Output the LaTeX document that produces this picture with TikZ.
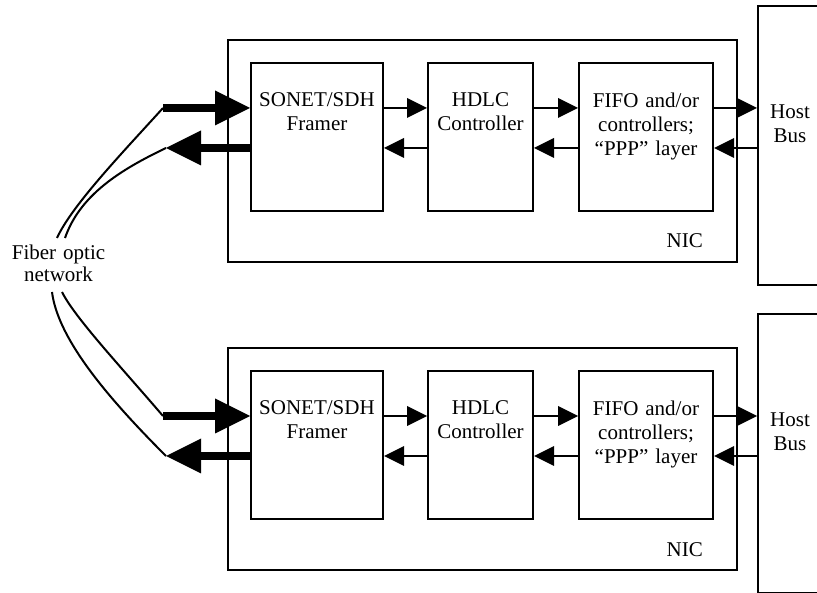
\documentclass[tikz,border=0pt]{standalone}
\usepackage{fontspec}
\setmainfont{Liberation Serif}
\usetikzlibrary{arrows.meta}
\begin{document}
\begin{tikzpicture}[x=1pt,y=-1pt,
  blk/.style={draw, line width=2pt, rectangle, inner sep=0pt},
  txt/.style={font=\fontsize{21}{24}\selectfont, align=center, text width=160pt, inner sep=0pt, anchor=base},
  plain/.style={font=\fontsize{21}{24}\selectfont, inner sep=0pt},
  thinarr/.style={line width=2pt, -{Triangle[length=20pt,width=20pt,line width=0pt]}},
  fatarr/.style={line width=8pt, -{Triangle[length=35pt,width=35pt,line width=0pt]}},
  fiber/.style={line width=2pt}]
\useasboundingbox (0,0) rectangle (817,593);
\clip (0,0) rectangle (817,593);

% two identical network interface cards, one below the other
\foreach \r/\dy in {1/0,2/308}{
  \begin{scope}[shift={(0,\dy)}]
    \node[blk, minimum width=509pt, minimum height=222pt] (nic\r) at (482.5,151) {};
    \node[blk, minimum width=132pt, minimum height=148pt] (fr\r) at (317,137) {};
    \node[blk, minimum width=105pt, minimum height=148pt] (hd\r) at (480.5,137) {};
    \node[blk, minimum width=134pt, minimum height=148pt] (ff\r) at (646,137) {};
    \node[blk, minimum width=100pt, minimum height=279pt] (hb\r) at (808,145.5) {};

    \node[txt] at (317,107) {SONET/SDH\\Framer};
    \node[txt] at (480.5,107) {HDLC\\Controller};
    \node[txt] at (646,108) {FIFO and/or\\controllers;\\“PPP” layer};
    \node[txt] at (790,119) {Host\\Bus};
    \node[plain, anchor=base east] at (703,248) {NIC};

    % signal rows: transmit (upper) and receive (lower)
    \coordinate (ra\r) at (0,108);
    \coordinate (rb\r) at (0,148);
    \coordinate (fi\r) at (163,108);
    \coordinate (fo\r) at (166,148);

    \draw[fatarr] (fi\r) -- (fr\r.west |- ra\r);
    \draw[fatarr] (fr\r.west |- rb\r) -- (fo\r);
    \draw[thinarr] (fr\r.east |- ra\r) -- (hd\r.west |- ra\r);
    \draw[thinarr] (hd\r.west |- rb\r) -- (fr\r.east |- rb\r);
    \draw[thinarr] (hd\r.east |- ra\r) -- (ff\r.west |- ra\r);
    \draw[thinarr] (ff\r.west |- rb\r) -- (hd\r.east |- rb\r);
    \draw[thinarr] (ff\r.east |- ra\r) -- (hb\r.west |- ra\r);
    \draw[thinarr] (hb\r.west |- rb\r) -- (ff\r.east |- rb\r);
  \end{scope}
}

% fiber optic network and its four strands
\node[txt, font=\fontsize{21}{22.5}\selectfont] (fib) at (58.5,259.5) {Fiber optic\\network};
\coordinate (c1) at (57,238);
\coordinate (c2) at (65,238);
\coordinate (c3) at (52,292);
\coordinate (c4) at (62,292);
\draw[fiber] (c1) .. controls (72,205) and (125,150) .. (fi1);
\draw[fiber] (c2) .. controls (80,195) and (120,170) .. (fo1);
\draw[fiber] (c3) .. controls (58,340) and (110,400) .. (fo2);
\draw[fiber] (c4) .. controls (75,318) and (122,368) .. (fi2);
\end{tikzpicture}
\end{document}
